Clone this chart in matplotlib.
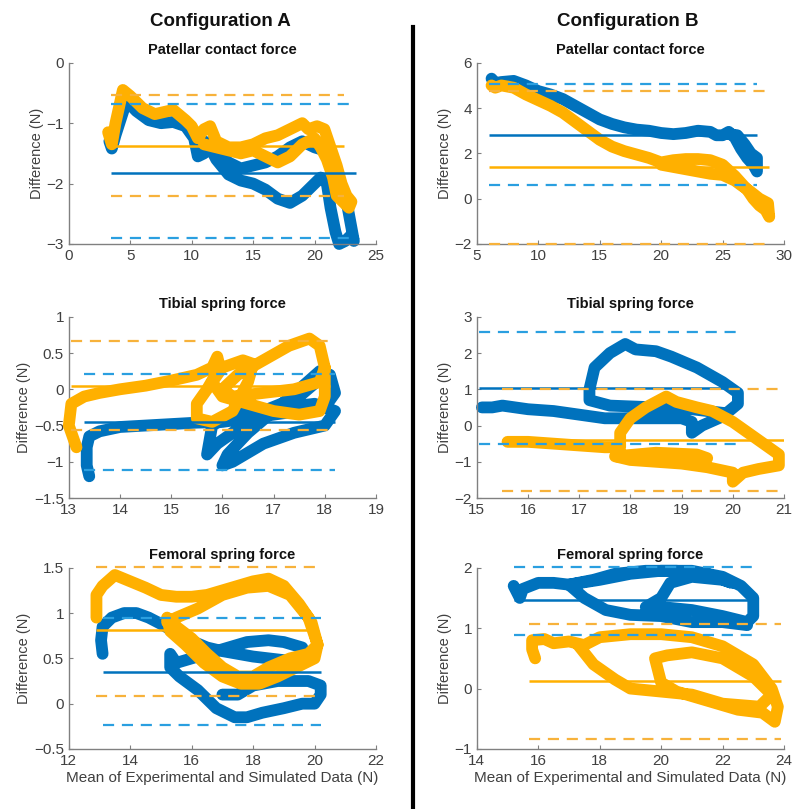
import numpy as np
import matplotlib
matplotlib.use('Agg')
import matplotlib.pyplot as plt
from matplotlib.lines import Line2D
from matplotlib.ticker import FuncFormatter

plt.rcParams['font.family'] = ['Liberation Sans', 'DejaVu Sans']

BLUE = '#0072BD'
BLUE_D = '#2A9FE0'
YEL = '#FFB000'
YEL_D = '#F7B23B'

# ---- config A, patellar contact force
a1_blue_x = [3.3, 3.5, 3.8, 4.7, 5.5, 6.5, 7.5, 8.5, 9.5, 10.2, 10.5, 11, 11.5, 12, 13, 14, 15, 16, 17, 18, 19, 20, 20.5, 21, 21.3, 21.7, 22, 22.5, 23, 23.2,
             22.7, 22, 21.5, 20.8, 20, 19, 18, 17, 16, 15, 14, 13, 12, 11.5, 11, 10.5]
a1_blue_y = [-1.30, -1.42, -1.2, -0.63, -0.80, -0.95, -1.00, -0.98, -1.05, -1.25, -1.55, -1.50, -1.40, -1.60, -1.85, -1.95, -2.00, -2.10, -2.25, -2.32, -2.20, -2.00, -1.90, -2.00, -2.40, -2.80, -3.00, -2.95, -2.85, -2.95,
             -2.4, -2.0, -1.6, -1.45, -1.40, -1.30, -1.40, -1.55, -1.65, -1.70, -1.75, -1.65, -1.45, -1.35, -1.30, -1.40]
a1_yel_x = [3.2, 3.5, 3.8, 4.4, 5, 6, 7, 8.5, 9.5, 10, 10.5, 11, 11.5, 12, 13, 14, 15, 16, 17, 18, 19, 19.5, 20.2, 20.8, 21.3, 21.8, 22.2, 22.6, 23,
            22.8, 22.3, 21.8, 21.5, 21, 20.5, 20, 19, 18, 17, 16, 15, 14, 13, 12, 11]
a1_yel_y = [-1.15, -1.35, -1.0, -0.45, -0.55, -0.75, -0.85, -0.78, -0.95, -1.05, -1.25, -1.10, -1.05, -1.30, -1.40, -1.40, -1.35, -1.25, -1.20, -1.10, -1.00, -1.10, -1.05, -1.10, -1.40, -1.70, -2.00, -2.20, -2.30,
            -2.40, -2.30, -2.20, -1.90, -1.60, -1.40, -1.25, -1.35, -1.55, -1.65, -1.55, -1.45, -1.50, -1.45, -1.40, -1.35]
a1_blue_stats = [-1.82, -0.69, -2.90]   # mean, upper LoA, lower LoA
a1_yel_stats = [-1.37, -0.53, -2.20]
a1_blue_span = [3.4, 23.4]
a1_yel_span = [3.4, 22.4]

# ---- config B, patellar contact force
b1_blue_x = [6.2, 6.5, 7, 8, 9, 10, 11, 12, 13, 14, 15, 16, 17, 18, 19, 20, 21, 22, 23, 24, 24.5, 25, 25.5, 26, 26.5, 27, 27.5, 27.8, 27.8, 27.3, 26.8, 26.2, 25.5]
b1_blue_y = [5.3, 5.1, 5.15, 5.2, 5.0, 4.75, 4.6, 4.4, 4.1, 3.8, 3.5, 3.3, 3.15, 3.05, 3.0, 2.9, 2.85, 2.9, 3.0, 2.95, 2.8, 2.8, 2.95, 2.7, 2.2, 1.8, 1.5, 1.2, 1.8, 2.0, 2.4, 2.8, 2.85]
b1_yel_x = [6.2, 6.5, 7, 7.5, 8, 9, 10, 11, 12, 13, 14, 15, 16, 17, 18, 19, 20, 21, 22, 23, 24, 25, 26, 27, 27.5, 28, 28.5, 28.8,
            28.7, 28, 27.3, 26.5, 26, 25, 24, 23, 22, 21, 20]
b1_yel_y = [5.0, 4.9, 5.0, 4.95, 4.9, 4.6, 4.35, 4.1, 3.8, 3.4, 3.0, 2.6, 2.3, 2.1, 1.95, 1.8, 1.6, 1.7, 1.75, 1.75, 1.7, 1.5, 1.0, 0.4, 0.0, -0.3, -0.5, -0.8,
            -0.2, 0.0, 0.3, 0.6, 0.8, 1.05, 1.1, 1.2, 1.3, 1.4, 1.5]
b1_blue_stats = [2.81, 5.07, 0.60]
b1_yel_stats = [1.40, 4.75, -2.00]
b1_blue_span = [6.0, 27.8]
b1_yel_span = [6.0, 28.8]

# ---- config A, tibial spring force
a2_blue_x = [13.4, 13.35, 13.35, 13.4, 13.6, 14, 14.5, 15, 15.5, 16, 16.5, 17, 17.5, 18, 18.2, 18.1, 17.9, 17.5, 17, 16.5, 16.1, 16.0, 16.2, 16.8, 17.4, 18, 18.2,
             17.8, 17.2, 16.5, 15.9, 15.7, 15.8, 16.3, 16.8, 17.5, 18]
a2_blue_y = [-1.2, -1.05, -0.8, -0.65, -0.58, -0.52, -0.50, -0.48, -0.46, -0.45, -0.4, -0.35, -0.3, -0.25, -0.05, 0.2, 0.25, 0.0, -0.3, -0.6, -0.9, -1.05, -1.0, -0.75, -0.6, -0.5, -0.3,
             -0.2, -0.25, -0.45, -0.75, -0.9, -0.5, -0.3, -0.3, -0.1, 0.2]
a2_yel_x = [13.15, 13.0, 13.05, 13.3, 13.6, 14, 14.5, 15, 15.5, 15.8, 15.9, 15.95, 15.7, 15.5, 15.5, 15.8, 16.2, 16.5, 16.6, 16.4, 16.0, 15.8, 16.0, 16.5, 17, 17.5, 17.9, 18.0, 18.0, 17.9, 17.7, 17.3, 16.8, 16.3, 16.0, 16.2, 16.8, 17.4, 17.9, 18.0]
a2_yel_y = [-0.8, -0.5, -0.2, -0.1, -0.05, 0.0, 0.05, 0.12, 0.2, 0.3, 0.45, 0.3, 0.0, -0.2, -0.4, -0.45, -0.3, 0.1, 0.35, 0.4, 0.3, 0.1, -0.1, -0.2, -0.3, -0.35, -0.3, -0.1, 0.3, 0.6, 0.7, 0.6, 0.4, 0.2, 0.0, -0.1, -0.05, 0.0, 0.1, 0.3]
a2_blue_stats = [-0.45, 0.21, -1.11]
a2_yel_stats = [0.05, 0.66, -0.56]
a2_blue_span = [13.3, 18.2]
a2_yel_span = [13.05, 18.1]

# ---- config B, tibial spring force
b2_blue_x = [15.1, 15.3, 15.5, 16, 16.5, 17, 17.5, 18, 18.5, 19, 19.2, 19.2, 19.4, 19.8, 20.1, 20.1, 19.8, 19.3, 18.8, 18.5, 18.1, 17.9, 17.6, 17.3, 17.2, 17.2, 17.6, 18.5, 19.2, 19.8]
b2_blue_y = [0.5, 0.5, 0.55, 0.45, 0.4, 0.3, 0.2, 0.2, 0.2, 0.2, 0.1, -0.2, 0.0, 0.25, 0.6, 0.9, 1.2, 1.6, 1.9, 2.05, 2.1, 2.25, 2.0, 1.6, 1.0, 0.7, 0.55, 0.5, 0.45, 0.35]
b2_yel_x = [15.6, 16, 16.5, 17, 17.5, 17.8, 17.8, 18.0, 18.3, 18.7, 18.9, 19.3, 19.6, 20, 20.5, 20.9, 20.9, 20.5, 20.2, 20.0, 20.0, 19.5, 19, 18.5, 18, 17.7, 18.5, 19.3, 19.5]
b2_yel_y = [-0.45, -0.45, -0.5, -0.55, -0.6, -0.6, -0.2, 0.2, 0.5, 0.8, 0.65, 0.5, 0.4, 0.1, -0.4, -0.8, -1.1, -1.2, -1.3, -1.55, -1.3, -1.15, -1.05, -1.0, -0.95, -0.85, -0.75, -0.8, -0.9]
b2_blue_stats = [1.04, 2.59, -0.51]
b2_yel_stats = [-0.41, 1.02, -1.80]
b2_blue_span = [15.05, 20.1]
b2_yel_span = [15.5, 21.0]

# ---- config A, femoral spring force
a3_blue_x = [13.1, 13.05, 13.1, 13.4, 13.8, 14.2, 14.6, 15, 15.4, 15.8, 16.5, 17, 17.5, 18, 18.5, 19, 19.5, 19.7, 19.6, 19, 18.5, 17.8, 17, 16.5, 16, 15.5, 15.3, 15.3,
             15.6, 16.2, 16.8, 17.4, 17.8, 18.3, 19, 19.6, 20, 20.2, 20.2, 19.8, 19.3, 18.8, 18, 17.5, 17]
a3_blue_y = [0.55, 0.7, 0.85, 0.95, 1.0, 1.0, 0.95, 0.88, 0.8, 0.72, 0.62, 0.58, 0.55, 0.52, 0.5, 0.48, 0.45, 0.5, 0.62, 0.68, 0.7, 0.68, 0.6, 0.55, 0.5, 0.45, 0.55, 0.4,
             0.3, 0.15, -0.05, -0.15, -0.15, -0.1, -0.05, 0.0, 0.0, 0.1, 0.2, 0.25, 0.25, 0.25, 0.2, 0.1, 0.1]
a3_yel_x = [12.9, 12.9, 13.1, 13.5, 14, 14.5, 15, 15.5, 16, 16.5, 17, 17.5, 18, 18.5, 19, 19.5, 19.9, 20.1, 19.8, 19.2, 18.5, 18, 17.5, 17, 16.5, 16, 15.5, 15.2,
            15.3, 15.8, 16.4, 17, 17.6, 18.2, 18.8, 19.4, 20, 20.1, 19.8, 19.2, 18.5, 17.8, 17, 16.2, 15.5, 15.2]
a3_yel_y = [0.95, 1.2, 1.3, 1.42, 1.35, 1.28, 1.2, 1.18, 1.18, 1.2, 1.25, 1.3, 1.35, 1.38, 1.3, 1.1, 0.9, 0.65, 0.55, 0.5, 0.4, 0.3, 0.3, 0.4, 0.55, 0.72, 0.85, 0.95,
            0.8, 0.65, 0.45, 0.3, 0.22, 0.22, 0.3, 0.4, 0.5, 0.65, 0.95, 1.2, 1.3, 1.28, 1.2, 1.05, 0.95, 0.9]
a3_blue_stats = [0.35, 0.94, -0.23]
a3_yel_stats = [0.81, 1.51, 0.085]
a3_blue_span = [13.1, 20.2]
a3_yel_span = [12.9, 20.0]

# ---- config B, femoral spring force
b3_blue_x = [15.2, 15.3, 15.4, 15.5, 16, 16.5, 17, 18, 19, 20, 21, 22, 22.6, 23.0, 23.0, 22.8, 22, 21, 20, 19.5, 20, 20.3, 21, 22,
             22.3, 21.5, 20.5, 19.5, 18.5, 17.8, 17.3, 17.0, 17.5, 18.2, 19, 20, 21, 22, 22.8]
b3_blue_y = [1.7, 1.6, 1.5, 1.65, 1.75, 1.75, 1.72, 1.8, 1.9, 1.95, 1.95, 1.85, 1.7, 1.5, 1.2, 1.1, 1.2, 1.3, 1.35, 1.35, 1.5, 1.75, 1.85, 1.8,
             1.75, 1.9, 1.95, 1.95, 1.9, 1.8, 1.75, 1.72, 1.5, 1.3, 1.22, 1.2, 1.1, 1.1, 1.05]
b3_yel_x = [15.9, 15.8, 15.8, 16.2, 16.5, 17, 17.5, 18, 19, 20, 21, 22, 23, 23.6, 23.8, 23.7, 23.3, 22.5, 21.5, 20.5, 20, 19.8, 20.2, 21, 22, 23, 23.6,
            23.2, 22, 21, 20, 19, 18.5, 17.8, 17.3]
b3_yel_y = [0.5, 0.65, 0.8, 0.82, 0.75, 0.78, 0.72, 0.85, 0.9, 0.9, 0.85, 0.7, 0.4, 0.0, -0.3, -0.55, -0.4, -0.35, -0.2, -0.05, 0.1, 0.5, 0.55, 0.6, 0.5, 0.2, -0.1,
            -0.3, -0.25, -0.1, -0.05, 0.0, 0.15, 0.4, 0.72]
b3_blue_stats = [1.46, 2.01, 0.89]
b3_yel_stats = [0.12, 1.07, -0.83]
b3_blue_span = [15.2, 23.0]
b3_yel_span = [15.7, 23.9]

titles = ['Patellar contact force', 'Tibial spring force', 'Femoral spring force']
xlims = [[0, 25], [5, 30], [13, 19], [15, 21], [12, 22], [14, 24]]
ylims = [[-3, 0], [-2, 6], [-1.5, 1], [-2, 3], [-0.5, 1.5], [-1, 2]]
xticks = [np.arange(0, 26, 5), np.arange(5, 31, 5), np.arange(13, 20, 1), np.arange(15, 22, 1), np.arange(12, 23, 2), np.arange(14, 25, 2)]
yticks = [np.arange(-3, 0.1, 1), np.arange(-2, 6.1, 2), np.arange(-1.5, 1.01, 0.5), np.arange(-2, 3.1, 1), np.arange(-0.5, 1.51, 0.5), np.arange(-1, 2.1, 1)]

panels = [
    (a1_blue_x, a1_blue_y, a1_yel_x, a1_yel_y, a1_blue_stats, a1_yel_stats, a1_blue_span, a1_yel_span),
    (b1_blue_x, b1_blue_y, b1_yel_x, b1_yel_y, b1_blue_stats, b1_yel_stats, b1_blue_span, b1_yel_span),
    (a2_blue_x, a2_blue_y, a2_yel_x, a2_yel_y, a2_blue_stats, a2_yel_stats, a2_blue_span, a2_yel_span),
    (b2_blue_x, b2_blue_y, b2_yel_x, b2_yel_y, b2_blue_stats, b2_yel_stats, b2_blue_span, b2_yel_span),
    (a3_blue_x, a3_blue_y, a3_yel_x, a3_yel_y, a3_blue_stats, a3_yel_stats, a3_blue_span, a3_yel_span),
    (b3_blue_x, b3_blue_y, b3_yel_x, b3_yel_y, b3_blue_stats, b3_yel_stats, b3_blue_span, b3_yel_span),
]

fig = plt.figure(figsize=(8, 8.09), dpi=100)

lefts = [0.086, 0.596]
bottoms = [0.6984, 0.3844, 0.0742]
w = 0.384
h = 0.224

fmt = FuncFormatter(lambda v, p: ('%g' % v).replace('-', '\u2212'))

for i, p in enumerate(panels):
    r, c = divmod(i, 2)
    ax = fig.add_axes([lefts[c], bottoms[r], w, h])
    bx, by, yx, yy, bs, ys, bsp, ysp = p
    ax.plot(bx, by, color=BLUE, lw=8.5, solid_capstyle='round', solid_joinstyle='round', zorder=2, clip_on=False)
    ax.plot(yx, yy, color=YEL, lw=8.5, solid_capstyle='round', solid_joinstyle='round', zorder=3, clip_on=False)
    ax.hlines(bs[0], bsp[0], bsp[1], color=BLUE, lw=1.8, zorder=4)
    ax.hlines(bs[1:], bsp[0], bsp[1], color=BLUE_D, lw=1.6, linestyles=(0, (5, 3.5)), zorder=4, clip_on=False)
    ax.hlines(ys[0], ysp[0], ysp[1], color=YEL, lw=1.8, zorder=4)
    ax.hlines(ys[1:], ysp[0], ysp[1], color=YEL_D, lw=1.6, linestyles=(0, (5, 3.5)), zorder=4, clip_on=False)
    ax.set_xlim(xlims[i])
    ax.set_ylim(ylims[i])
    ax.set_xticks(xticks[i])
    ax.set_yticks(yticks[i])
    ax.xaxis.set_major_formatter(fmt)
    ax.yaxis.set_major_formatter(fmt)
    for s in ['top', 'right']:
        ax.spines[s].set_visible(False)
    for s in ['left', 'bottom']:
        ax.spines[s].set_color('#808080')
        ax.spines[s].set_linewidth(1.0)
    ax.tick_params(direction='in', length=3, colors='#808080', labelcolor='#404040', labelsize=11)
    ax.set_title(titles[r], fontsize=10.5, fontweight='bold', color='#111111', pad=6)
    ax.set_ylabel('Difference (N)', fontsize=10.5, color='#404040', labelpad=2)
    if r == 2:
        ax.set_xlabel('Mean of Experimental and Simulated Data (N)', fontsize=11, color='#404040', labelpad=2)

fig.text(0.275, 0.974, 'Configuration A', ha='center', va='center', fontsize=13.5, fontweight='bold', color='#111111')
fig.text(0.785, 0.974, 'Configuration B', ha='center', va='center', fontsize=13.5, fontweight='bold', color='#111111')
fig.add_artist(Line2D([0.516, 0.516], [0.0, 0.967], color='black', lw=3, transform=fig.transFigure))

fig.savefig('out.png', dpi=100)
